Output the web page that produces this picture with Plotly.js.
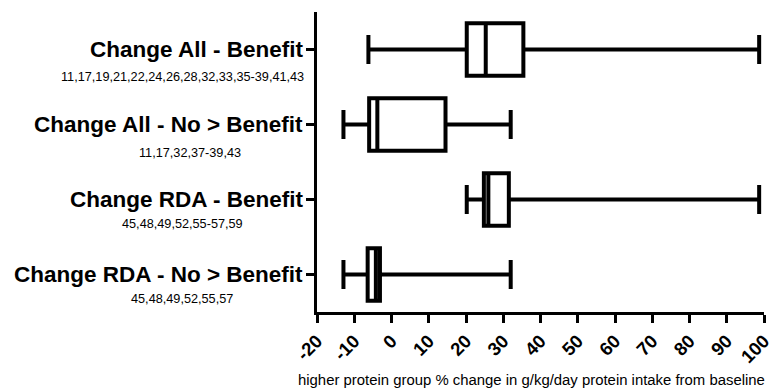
<!DOCTYPE html>
<html>
<head>
<meta charset="utf-8">
<script src="https://cdn.plot.ly/plotly-3.0.1.min.js"></script>
<style>html,body{margin:0;padding:0;background:#fff;}#chart{width:772px;height:388px;}</style>
</head>
<body>
<div id="chart"></div>
<script>
// Data
var categories = ["Change All - Benefit", "Change All - No > Benefit", "Change RDA - Benefit", "Change RDA - No > Benefit"];
var subtitles = ["11,17,19,21,22,24,26,28,32,33,35-39,41,43", "11,17,32,37-39,43", "45,48,49,52,55-57,59", "45,48,49,52,55,57"];
var lowerWhisker = [-6.2, -12.9, 20.2, -12.9];
var q1Values = [20.2, -6.0, 24.8, -6.4];
var medianValues = [25.3, -3.8, 26.0, -4.2];
var q3Values = [35.4, 14.5, 31.5, -3.1];
var upperWhisker = [98.7, 32.0, 98.7, 32.0];
var xTickValues = [-20, -10, 0, 10, 20, 30, 40, 50, 60, 70, 80, 90, 100];
var xTitle = "higher protein group % change in g/kg/day protein intake from baseline";

var trace = {
  type: 'box',
  orientation: 'h',
  y: categories,
  q1: q1Values,
  median: medianValues,
  q3: q3Values,
  lowerfence: lowerWhisker,
  upperfence: upperWhisker,
  width: 0.7,
  whiskerwidth: 0.55,
  fillcolor: 'rgba(255,255,255,0)',
  line: {color: '#000', width: 4},
  boxpoints: false,
  hoverinfo: 'skip',
  showlegend: false
};

var subX = [182, 190, 182, 182];
var subShift = [-27, -28, -24, -24];
var annotations = [];
categories.forEach(function (c, i) {
  annotations.push({
    xref: 'paper', yref: 'y', x: 0, y: i,
    xanchor: 'right', yanchor: 'middle', xshift: -12, yshift: 0,
    text: '<b>' + c.replace('>', '&gt;') + '</b>',
    showarrow: false,
    font: {family: 'Liberation Sans, Arial, sans-serif', size: 22.5, color: '#000'}
  });
  annotations.push({
    xref: 'paper', yref: 'y', x: (subX[i] - 317) / 447, y: i,
    xanchor: 'center', yanchor: 'middle', yshift: subShift[i],
    text: subtitles[i],
    showarrow: false,
    font: {family: 'Liberation Sans, Arial, sans-serif', size: 12.7, color: '#000'}
  });
});
annotations.push({
  xref: 'paper', yref: 'paper', x: (531 - 317) / 447, y: 0,
  xanchor: 'center', yanchor: 'middle', yshift: -68,
  text: xTitle, showarrow: false,
  font: {family: 'Liberation Sans, Arial, sans-serif', size: 14.9, color: '#000'}
});

var layout = {
  width: 772, height: 388,
  margin: {l: 317, r: 8, t: 12, b: 76},
  paper_bgcolor: '#fff', plot_bgcolor: '#fff',
  font: {family: 'Liberation Sans, Arial, sans-serif', color: '#000'},
  xaxis: {
    range: [-20, 100],
    tickvals: xTickValues,
    ticktext: xTickValues.map(String),
    tickangle: -45,
    ticklabeloverflow: 'allow',
    ticks: 'outside', ticklen: 8, tickwidth: 3, tickcolor: '#000',
    showline: true, linewidth: 3, linecolor: '#000',
    showgrid: false, zeroline: false,
    tickfont: {family: 'Liberation Sans, Arial, sans-serif', size: 18.5, color: '#000', weight: 'bold'}
  },
  yaxis: {
    type: 'category',
    categoryorder: 'array', categoryarray: categories,
    range: [3.5, -0.5],
    showticklabels: false,
    ticks: 'outside', ticklen: 8, tickwidth: 2.5, tickcolor: '#000',
    showline: true, linewidth: 3, linecolor: '#000',
    showgrid: false, zeroline: false
  },
  annotations: annotations
};

Plotly.newPlot('chart', [trace], layout, {displayModeBar: false, staticPlot: true});
</script>
</body>
</html>
